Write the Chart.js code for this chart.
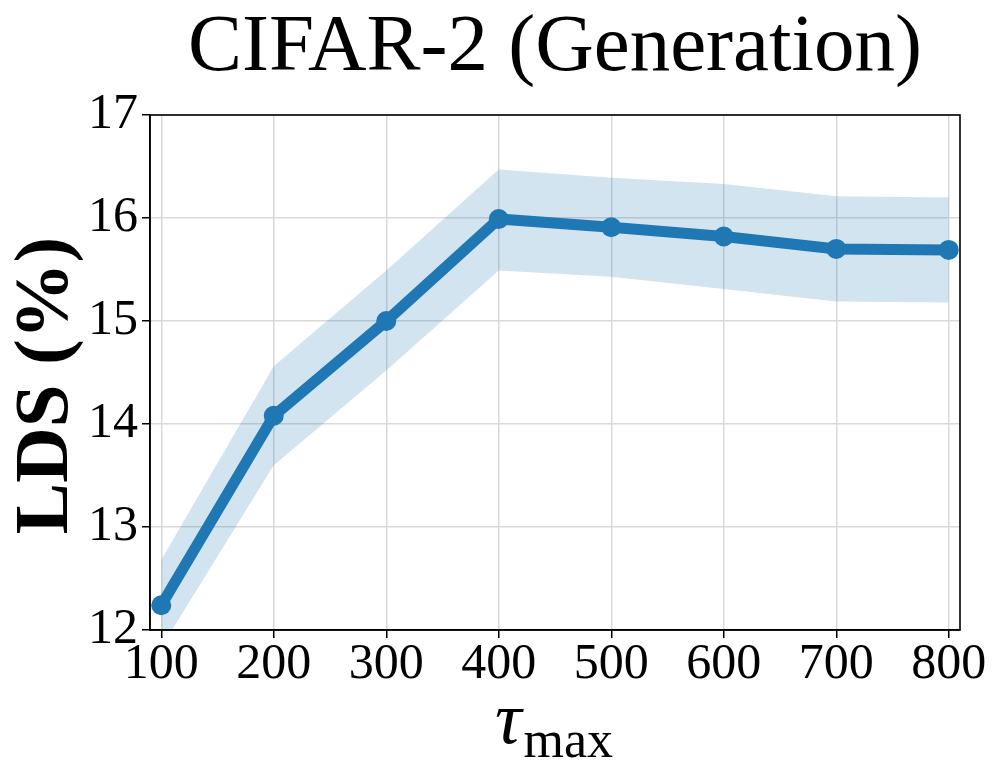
<!DOCTYPE html>
<html>
<head>
<meta charset="utf-8">
<script src="https://cdn.jsdelivr.net/npm/chart.js@4.4.0/dist/chart.umd.min.js"></script>
<style>
  html, body { margin: 0; padding: 0; background: #fff; }
  #wrap { width: 997px; height: 775px; }
</style>
</head>
<body>
<div id="wrap"><canvas id="chart"></canvas></div>
<script>
// Values
const tauMax = [100, 200, 300, 400, 500, 600, 700, 800];
const ldsMean = [12.24, 14.08, 15.00, 15.99, 15.91, 15.82, 15.70, 15.69];
const ldsUpper = [12.68, 14.56, 15.49, 16.47, 16.39, 16.33, 16.21, 16.20];
const ldsLower = [11.83, 13.60, 14.52, 15.49, 15.43, 15.31, 15.19, 15.18];
const yTicks = [12, 13, 14, 15, 16, 17];

const titleText = 'CIFAR-2 (Generation)';
const yLabel = 'LDS (%)';

const blue = '#1f77b4';
const serif = "'Liberation Serif', 'DejaVu Serif', serif";
const gridGrey = '#d9d9d9';

const toPoints = ys => tauMax.map((x, i) => ({ x: x, y: ys[i] }));

// Title, frame and axis labels drawn on top of the chart
const decorations = {
    id: 'decorations',
    afterDraw(chart) {
        const { ctx, chartArea: a } = chart;
        ctx.save();

        // full frame around the plot
        ctx.strokeStyle = '#000';
        ctx.lineWidth = 1.6;
        ctx.strokeRect(a.left, a.top, a.right - a.left, a.bottom - a.top);

        // title
        ctx.fillStyle = '#000';
        ctx.textAlign = 'center';
        ctx.textBaseline = 'alphabetic';
        ctx.font = `81px ${serif}`;
        ctx.fillText(titleText, (a.left + a.right) / 2, 70);

        // y label
        ctx.save();
        ctx.translate(67, (a.top + a.bottom) / 2 + 13);
        ctx.rotate(-Math.PI / 2);
        ctx.font = `bold 77px ${serif}`;
        ctx.fillText(yLabel, 0, 0);
        ctx.restore();

        // x label: tau with subscript max
        const cx = (a.left + a.right) / 2;
        ctx.font = `italic 74px ${serif}`;
        const wTau = ctx.measureText('τ').width;
        ctx.font = `52px ${serif}`;
        const wMax = ctx.measureText('max').width;
        const x0 = cx - (wTau + wMax) / 2 - 2;
        ctx.textAlign = 'left';
        ctx.font = `italic 74px ${serif}`;
        ctx.fillText('τ', x0, 743);
        ctx.font = `52px ${serif}`;
        ctx.fillText('max', x0 + wTau + 2, 757);

        ctx.restore();
    }
};

new Chart(document.getElementById('chart'), {
    type: 'line',
    data: {
        datasets: [
            {
                label: 'LDS',
                data: toPoints(ldsMean),
                borderColor: blue,
                backgroundColor: blue,
                borderWidth: 11,
                pointRadius: 10,
                pointHoverRadius: 10,
                pointBorderWidth: 0,
                fill: false
            },
            {
                label: 'lower',
                data: toPoints(ldsLower),
                borderWidth: 0,
                pointRadius: 0,
                fill: false
            },
            {
                label: 'upper',
                data: toPoints(ldsUpper),
                borderWidth: 0,
                pointRadius: 0,
                backgroundColor: 'rgba(31, 119, 180, 0.2)',
                fill: 1
            }
        ]
    },
    options: {
        responsive: true,
        maintainAspectRatio: false,
        animation: false,
        layout: { padding: { top: 115, right: 37, bottom: 0, left: 0 } },
        plugins: {
            legend: { display: false },
            tooltip: { enabled: false },
            title: { display: false }
        },
        scales: {
            x: {
                type: 'linear',
                min: 90,
                max: 810,
                afterBuildTicks: s => { s.ticks = tauMax.map(v => ({ value: v })); },
                afterFit: s => { s.height = 145; },
                border: { display: true, color: '#000', width: 1.6 },
                grid: {
                    color: gridGrey,
                    lineWidth: 1.5,
                    tickColor: '#000',
                    tickLength: 8,
                    tickWidth: 1.5
                },
                ticks: {
                    color: '#000',
                    font: { family: serif, size: 50 },
                    padding: -3,
                    maxRotation: 0,
                    autoSkip: false
                }
            },
            y: {
                min: 12,
                max: 17,
                afterBuildTicks: s => { s.ticks = yTicks.map(v => ({ value: v })); },
                afterFit: s => { s.width = 150; },
                border: { display: true, color: '#000', width: 1.6 },
                grid: {
                    color: gridGrey,
                    lineWidth: 1.5,
                    tickColor: '#000',
                    tickLength: 8,
                    tickWidth: 1.5
                },
                ticks: {
                    color: '#000',
                    font: { family: serif, size: 50 },
                    padding: 4
                }
            }
        }
    },
    plugins: [decorations]
});
</script>
</body>
</html>
